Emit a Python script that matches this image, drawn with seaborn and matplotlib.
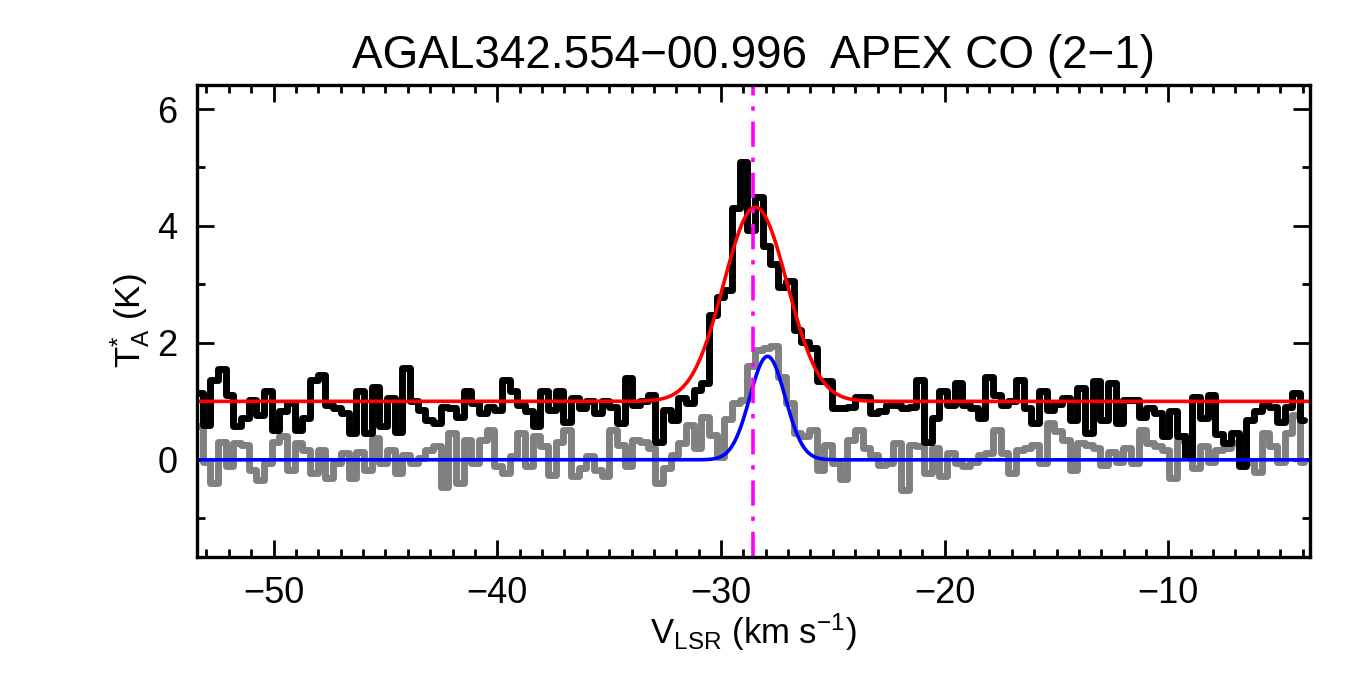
import numpy as np
import pandas as pd
import matplotlib
matplotlib.use('Agg')
import matplotlib.pyplot as plt
import seaborn as sns
from matplotlib.ticker import MultipleLocator

# channel grid (km/s)
v_first = -53.34
dv = 0.343

# CO (2-1) spectrum, plotted with +1 K offset
co_offset = 1.0
co_t = [0.14, -0.40, 0.37, 0.55, 0.11, -0.43, -0.29, 0.03, -0.23, 0.17,
        -0.49, -0.17, -0.03, -0.49, -0.29, 0.37, 0.45, -0.06, -0.12, -0.20,
        -0.54, 0.17, -0.54, 0.25, -0.43, 0.05, -0.52, 0.57, 0.00, -0.15,
        -0.32, -0.37, -0.09, -0.12, -0.26, 0.17, -0.03, -0.20, -0.09, -0.15,
        0.37, 0.17, -0.06, -0.17, -0.43, 0.17, -0.15, 0.17, -0.35, 0.05,
        -0.12, 0.00, -0.20, 0.00, -0.09, -0.37, 0.40, -0.06, 0.00, 0.11,
        -0.70, -0.15, -0.32, 0.06, -0.02, 0.20, 0.32, 1.48, 1.79, 1.90,
        3.30, 4.10, 2.93, 3.50, 2.65, 2.35, 1.95, 2.05, 1.22, 1.02,
        0.92, 0.34, 0.34, -0.12, -0.12, -0.09, 0.08, 0.08, -0.20, -0.17,
        -0.06, -0.06, -0.12, -0.09, 0.37, -0.69, -0.29, 0.17, -0.06, 0.31,
        -0.06, -0.12, -0.29, 0.42, 0.11, -0.06, 0.00, 0.37, -0.12, -0.37,
        0.17, -0.15, -0.05, 0.05, -0.32, 0.23, -0.54, 0.34, -0.32, 0.31,
        -0.37, 0.03, 0.03, -0.26, -0.12, -0.20, -0.60, -0.17, -0.60, -0.95,
        0.08, -0.29, 0.11, -0.55, -0.72, -0.54, -1.11, -0.32, -0.17, -0.06,
        -0.09, -0.35, -0.09, 0.14, -0.32]

# second (grey) spectrum
grey_t = [0.57, -0.03, -0.40, 0.31, -0.11, 0.28, 0.26, -0.17, -0.34, -0.06,
          0.31, 0.40, -0.17, 0.28, 0.17, -0.23, 0.17, -0.31, -0.06, 0.11,
          -0.31, 0.14, -0.17, 0.37, -0.06, 0.17, -0.23, 0.09, -0.06, 0.03,
          0.17, 0.23, -0.46, 0.46, -0.40, 0.34, -0.06, 0.34, 0.51, -0.11,
          -0.23, 0.06, 0.46, -0.11, 0.40, 0.23, -0.26, 0.31, 0.51, -0.28,
          -0.14, 0.06, -0.17, -0.28, 0.51, 0.26, -0.11, 0.34, 0.31, 0.20,
          -0.40, -0.14, 0.08, 0.28, 0.60, 0.20, 0.74, 0.43, 0.04, 0.70,
          0.97, 1.03, 1.60, 1.88, 1.91, 1.94, 1.42, 0.97, 0.46, 0.40,
          0.51, -0.17, 0.25, -0.05, -0.32, 0.34, 0.51, 0.20, 0.09, -0.09,
          -0.06, 0.28, -0.51, 0.26, 0.23, -0.23, 0.20, -0.28, 0.11, -0.06,
          -0.11, -0.03, 0.09, 0.11, 0.51, 0.11, -0.23, 0.17, 0.20, 0.26,
          -0.06, 0.63, 0.50, 0.34, -0.17, 0.28, 0.26, 0.20, -0.09, 0.14,
          -0.03, 0.20, -0.06, 0.51, 0.28, 0.23, 0.17, -0.31, 0.34, 0.40,
          -0.14, 0.23, -0.03, 0.17, 0.20, 0.28, 0.34, -0.03, -0.20, 0.46,
          0.23, -0.03, 0.46, 0.77, -0.03]

# gaussian fits (amplitude K, centre km/s, sigma km/s)
co_fit = (3.32, -28.46, 1.42)
grey_fit = (1.77, -27.92, 0.79)
v_source = -28.56

title = 'AGAL342.554\u221200.996  APEX CO (2\u22121)'

v = v_first + dv * np.arange(len(co_t))
df = pd.DataFrame({'v': v, 'co': np.array(co_t) + co_offset, 'grey': grey_t})

v_fine = np.linspace(-53.42, -3.69, 1500)
def gauss(x, p):
    a, c, s = p
    return a * np.exp(-0.5 * ((x - c) / s) ** 2)
fits = pd.DataFrame({'v': v_fine,
                     'co': co_offset + gauss(v_fine, co_fit),
                     'grey': gauss(v_fine, grey_fit)})

sns.set_style('ticks')
plt.rcParams['font.family'] = ['Liberation Sans', 'DejaVu Sans']
plt.rcParams['mathtext.fontset'] = 'custom'
plt.rcParams['mathtext.rm'] = 'Liberation Sans'
plt.rcParams['mathtext.it'] = 'Liberation Sans'
plt.rcParams['text.color'] = 'black'
plt.rcParams['axes.labelcolor'] = 'black'
plt.rcParams['xtick.color'] = 'black'
plt.rcParams['ytick.color'] = 'black'
plt.rcParams['axes.edgecolor'] = 'black'

fig = plt.figure(figsize=(13.5, 6.75), dpi=100)
ax = fig.add_axes([0.146, 0.175, 0.824, 0.699])

sns.lineplot(data=df, x='v', y='grey', ax=ax, color='#808080', lw=5,
             drawstyle='steps-mid', estimator=None)
sns.lineplot(data=df, x='v', y='co', ax=ax, color='black', lw=5,
             drawstyle='steps-mid', estimator=None)
sns.lineplot(data=fits, x='v', y='co', ax=ax, color='red', lw=2.6, estimator=None)
sns.lineplot(data=fits, x='v', y='grey', ax=ax, color='blue', lw=2.6, estimator=None)
ax.axvline(v_source, color='magenta', lw=2.6, dashes=(7, 3, 1.2, 3))

ax.set_xlim(-53.42, -3.69)
ax.set_ylim(-1.66, 6.41)
ax.xaxis.set_major_locator(MultipleLocator(10))
ax.xaxis.set_minor_locator(MultipleLocator(1))
ax.yaxis.set_major_locator(MultipleLocator(2))
ax.yaxis.set_minor_locator(MultipleLocator(1))
ax.tick_params(which='both', direction='in', top=True, right=True, width=2,
               labelsize=26, pad=14)
ax.tick_params(which='major', length=12)
ax.tick_params(which='minor', length=6)
for s in ax.spines.values():
    s.set_linewidth(2.4)

ax.set_title(title, fontsize=33, pad=12)
ax.set_xlabel(r'V$_\mathrm{LSR}$ (km s$^{-1}$)', fontsize=25, labelpad=0)
ax.set_ylabel(r'T$_\mathrm{A}^{*}$ (K)', fontsize=25, labelpad=4)

fig.savefig('out.png', dpi=100)
